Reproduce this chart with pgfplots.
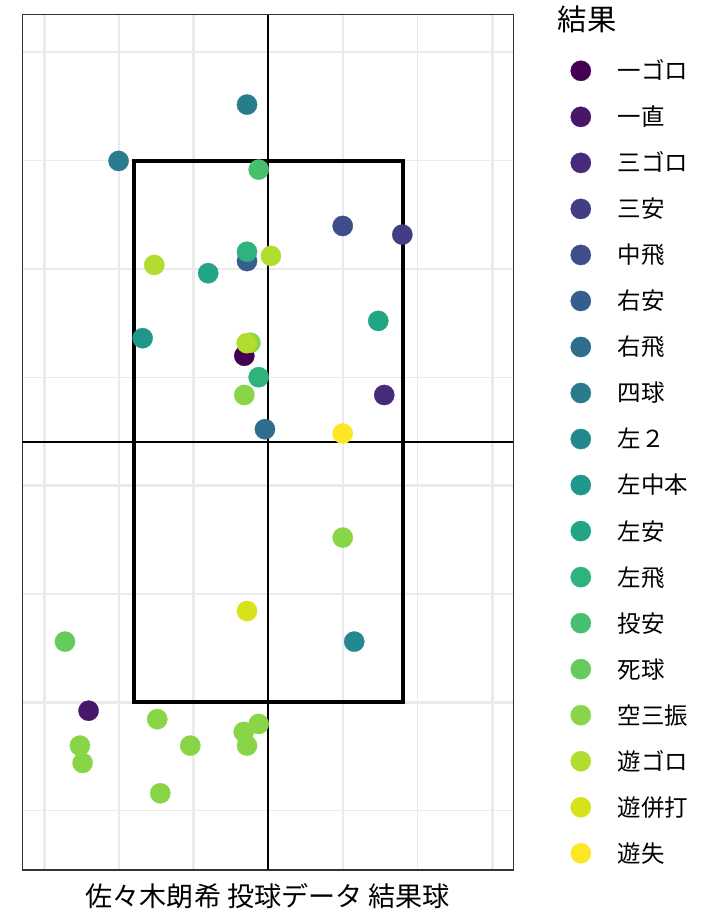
\documentclass[border=0pt]{standalone}
\usepackage{fontspec}
\setmainfont{Noto Sans CJK JP}
\usepackage{pgfplots}
\pgfplotsset{compat=1.18}
\definecolor{c1}{HTML}{440154}
\definecolor{c2}{HTML}{481769}
\definecolor{c3}{HTML}{472A7A}
\definecolor{c4}{HTML}{433D84}
\definecolor{c5}{HTML}{3D4E8A}
\definecolor{c6}{HTML}{355E8D}
\definecolor{c7}{HTML}{2E6D8E}
\definecolor{c8}{HTML}{297B8E}
\definecolor{c9}{HTML}{23898E}
\definecolor{c10}{HTML}{1F978B}
\definecolor{c11}{HTML}{21A585}
\definecolor{c12}{HTML}{2EB37C}
\definecolor{c13}{HTML}{46C06F}
\definecolor{c14}{HTML}{65CB5E}
\definecolor{c15}{HTML}{89D548}
\definecolor{c16}{HTML}{B0DD2F}
\definecolor{c17}{HTML}{D8E219}
\definecolor{c18}{HTML}{FDE725}
\definecolor{grid92}{HTML}{EBEBEB}
\definecolor{grey20}{HTML}{333333}
\pgfplotsset{pt/.style={color=#1, mark options={fill=#1, draw=#1, line width=0.2pt}}}
\begin{document}
\begin{tikzpicture}
\begin{axis}[
  name=ax,
  scale only axis,
  width=368.25pt, height=641.5pt,
  xmin=-0.147, xmax=3.141, ymin=-0.774, ymax=3.173,
  xtick={0,1,2,3}, minor xtick={0.5,1.5,2.5},
  ytick={0,1,2,3}, minor ytick={-0.5,0.5,1.5,2.5},
  xticklabels={}, yticklabels={},
  major tick length=0pt, minor tick length=0pt,
  grid=both,
  major grid style={draw=grid92, line width=2pt},
  minor grid style={draw=grid92, line width=1pt},
  axis line style={draw=grey20, line width=1pt},
  xlabel={佐々木朗希 投球データ 結果球},
  xlabel style={at={(axis description cs:0.5,-0.0426)}, anchor=base, inner sep=0pt, font=\fontsize{20.3pt}{24pt}\selectfont},
  clip=false,
  legend style={draw=none, fill=none, at={(axis description cs:1.1169,0.9462)}, anchor=north west,
    inner sep=0pt, outer sep=0pt, row sep=19.32pt, column sep=20pt,
    font=\fontsize{17.6pt}{21pt}\selectfont,
    nodes={inner sep=0pt, outer sep=0pt, text height=13.4pt, text depth=0pt}},
  legend cell align=left,
  legend image code/.code={\draw[#1] plot coordinates {(0pt,0pt)};},
  every axis plot/.append style={only marks, mark=*, mark size=7.6pt},
]
% reference lines
\addplot[forget plot, no marks, draw=black, line width=1.6pt, sharp plot] coordinates {(1.5,-0.774) (1.5,3.173)};
\addplot[forget plot, no marks, draw=black, line width=1.6pt, sharp plot] coordinates {(-0.147,1.2) (3.141,1.2)};
% points
\addplot[pt=c1] coordinates {(1.340,1.599)};
\addlegendentry{一ゴロ}
\addplot[pt=c2] coordinates {(0.297,-0.039)};
\addlegendentry{一直}
\addplot[pt=c3] coordinates {(2.277,1.418)};
\addlegendentry{三ゴロ}
\addplot[pt=c4] coordinates {(2.398,2.158)};
\addlegendentry{三安}
\addplot[pt=c5] coordinates {(1.999,2.198)};
\addlegendentry{中飛}
\addplot[pt=c6] coordinates {(1.358,2.036)};
\addlegendentry{右安}
\addplot[pt=c7] coordinates {(1.478,1.260)};
\addlegendentry{右飛}
\addplot[pt=c8] coordinates {(1.358,2.758) (0.498,2.498)};
\addlegendentry{四球}
\addplot[pt=c9] coordinates {(2.076,0.280)};
\addlegendentry{左２}
\addplot[pt=c10] coordinates {(0.659,1.680)};
\addlegendentry{左中本}
\addplot[pt=c11] coordinates {(1.098,1.980) (2.237,1.760)};
\addlegendentry{左安}
\addplot[pt=c12] coordinates {(1.358,2.079) (1.436,1.500)};
\addlegendentry{左飛}
\addplot[pt=c13] coordinates {(1.436,2.458)};
\addlegendentry{投安}
\addplot[pt=c14] coordinates {(0.139,0.280)};
\addlegendentry{死球}
\addplot[pt=c15] coordinates {
  (1.381,1.659) (1.340,1.418) (1.999,0.760) (0.757,-0.078) (1.436,-0.100)
  (1.336,-0.137) (1.358,-0.200) (0.239,-0.200) (0.978,-0.200) (0.257,-0.280) (0.777,-0.420)};
\addlegendentry{空三振}
\addplot[pt=c16] coordinates {(0.737,2.018) (1.518,2.060) (1.356,1.657)};
\addlegendentry{遊ゴロ}
\addplot[pt=c17] coordinates {(1.358,0.421)};
\addlegendentry{遊併打}
\addplot[pt=c18] coordinates {(1.999,1.240)};
\addlegendentry{遊失}
% strike zone
\addplot[forget plot, no marks, draw=black, line width=3pt, sharp plot] coordinates {(0.6,0) (2.4,0) (2.4,2.5) (0.6,2.5) (0.6,0)} -- cycle;
\node[anchor=base west, inner sep=0pt, font=\fontsize{22pt}{26pt}\selectfont] at (axis description cs:1.0900,0.9810) {結果};
\end{axis}
\pgfresetboundingbox
\path ([xshift=-16.7pt,yshift=-38.25pt]ax.south west) rectangle ([xshift=155pt,yshift=11pt]ax.north east);
\end{tikzpicture}
\end{document}
